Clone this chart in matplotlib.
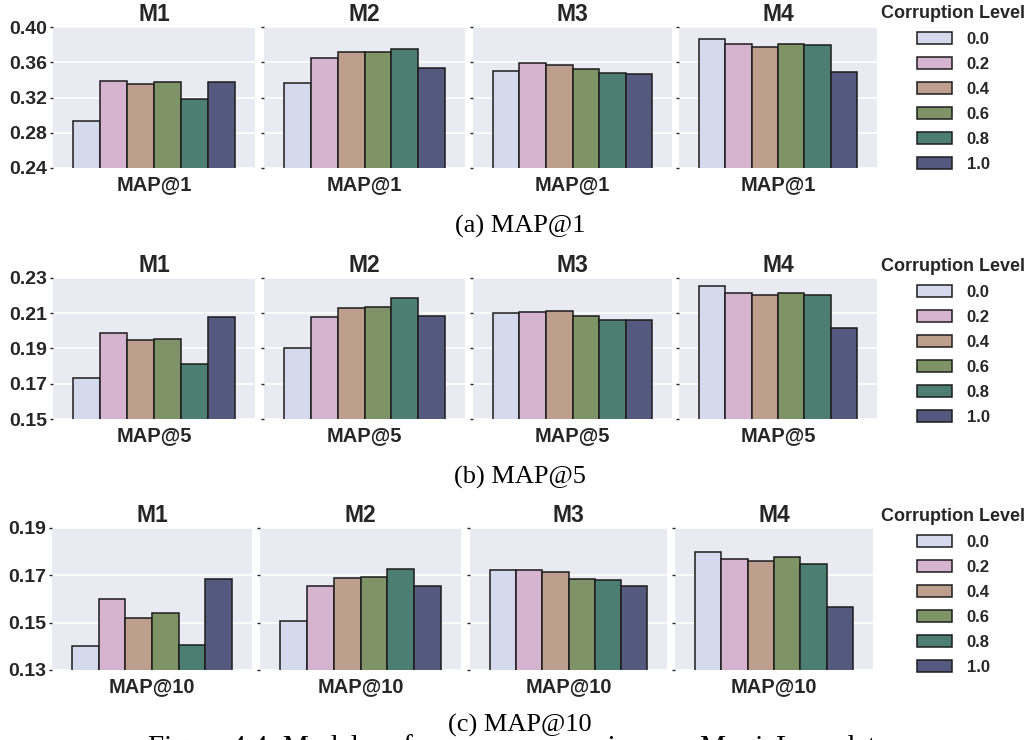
import numpy as np
import matplotlib
matplotlib.use("Agg")
import matplotlib.pyplot as plt

levels = ["0.0", "0.2", "0.4", "0.6", "0.8", "1.0"]
models = ["M1", "M2", "M3", "M4"]
colors = ["#d4d9ec", "#d6b3cf", "#be9e8c", "#7e9466", "#4c7f71", "#545a7d"]

# values, one list per model (M1..M4)
map1 = [
    [0.2935, 0.339, 0.335, 0.338, 0.318, 0.338],
    [0.337, 0.365, 0.372, 0.372, 0.3755, 0.354],
    [0.3496, 0.3597, 0.3567, 0.3522, 0.348, 0.3466],
    [0.3865, 0.3812, 0.377, 0.3812, 0.3797, 0.3484],
]
map5 = [
    [0.1732, 0.1986, 0.1946, 0.1954, 0.1811, 0.208],
    [0.1901, 0.2076, 0.2129, 0.2138, 0.2187, 0.2082],
    [0.2099, 0.2106, 0.211, 0.2084, 0.2063, 0.2063],
    [0.2253, 0.2215, 0.2202, 0.2217, 0.2206, 0.2014],
]
map10 = [
    [0.1402, 0.1599, 0.152, 0.1541, 0.1406, 0.1685],
    [0.1509, 0.1656, 0.169, 0.1695, 0.1728, 0.1656],
    [0.1722, 0.1722, 0.1715, 0.1685, 0.168, 0.1654],
    [0.1798, 0.1769, 0.176, 0.1779, 0.1746, 0.1567],
]

metric_names = ["MAP@1", "MAP@5", "MAP@10"]
captions = ["(a) MAP@1", "(b) MAP@5", "(c) MAP@10"]
yticks = [
    [0.24, 0.28, 0.32, 0.36, 0.40],
    [0.15, 0.17, 0.19, 0.21, 0.23],
    [0.13, 0.15, 0.17, 0.19],
]

W, H = 1031, 740
dark = "#262626"
sans = ["Liberation Sans", "DejaVu Sans"]
serif = ["Liberation Serif", "DejaVu Serif"]

fig = plt.figure(figsize=(W / 100, H / 100), dpi=100)
fig.patch.set_facecolor("white")

# pixel boxes of each panel row: top, bottom, list of (left, right)
rows = [
    (27, 168, [(53, 255), (264, 465), (473, 672), (679, 877)]),
    (278, 419, [(53, 255), (264, 465), (473, 672), (679, 877)]),
    (528, 670, [(52, 252), (260, 461), (470, 667), (675, 873)]),
]
caption_y = [233, 484, 732]
legend_shift = [22, 20, 20]

data = [map1, map5, map10]
n = len(levels)
bw = 0.8 / n
offsets = -0.4 + bw * (np.arange(n) + 0.5)

# the figure caption sits partly under the last sub-caption, as in the page
fig.text(148 / W, 1 - 755 / H,
         "Figure 4.4: Model performance comparison on MovieLens data",
         ha="left", va="baseline", fontsize=21, family=serif, color="black",
         zorder=1)

for r in range(3):
    top, bot, cols = rows[r]
    for c in range(4):
        l, rr = cols[c]
        ax = fig.add_axes([l / W, 1 - bot / H, (rr - l) / W, (bot - top) / H])
        ax.set_facecolor("#EAEAF2")
        for s in ax.spines.values():
            s.set_visible(False)
        ax.grid(axis="y", color="white", linewidth=1.2)
        ax.set_axisbelow(True)
        vals = data[r][c]
        bars = ax.bar(offsets, vals, width=bw, color=colors,
                      edgecolor="#1c1c1c", linewidth=1.1)
        ax.set_xlim(-0.5, 0.5)
        ax.set_ylim(yticks[r][0], yticks[r][-1])
        ax.set_yticks(yticks[r])
        ax.set_xticks([0])
        ax.set_xticklabels([metric_names[r]], fontsize=14.5, fontweight="bold",
                           color=dark, family=sans)
        ax.tick_params(axis="x", length=0, pad=5)
        ax.tick_params(axis="y", length=2, width=1, color=dark, pad=2)
        if c == 0:
            ax.set_yticklabels(["%.2f" % v for v in yticks[r]], fontsize=14,
                               fontweight="bold", color=dark, family=sans)
        else:
            ax.set_yticklabels([])
        ax.set_title(models[c], fontsize=16.5, fontweight="bold", color=dark,
                     family=sans, pad=4)
        if c == 3:
            leg = ax.legend(bars, levels, title="Corruption Level",
                            loc="upper center", frameon=False,
                            bbox_to_anchor=(953 / W, 1 - (top - legend_shift[r]) / H),
                            bbox_transform=fig.transFigure,
                            borderpad=0, borderaxespad=0,
                            handlelength=2.15, handleheight=0.75,
                            handletextpad=0.85, labelspacing=0.6,
                            prop={"family": sans, "weight": "bold", "size": 12})
            leg.get_title().set_fontproperties(
                {"family": sans, "weight": "bold", "size": 13})
            leg.get_title().set_color(dark)
            for t in leg.get_texts():
                t.set_color(dark)
    fig.text(520 / W, 1 - caption_y[r] / H, captions[r], ha="center",
             va="baseline", fontsize=19, family=serif, color="black", zorder=5,
             bbox=dict(facecolor="white", edgecolor="none", pad=1) if r == 2 else None)

fig.savefig("out.png", dpi=100)
